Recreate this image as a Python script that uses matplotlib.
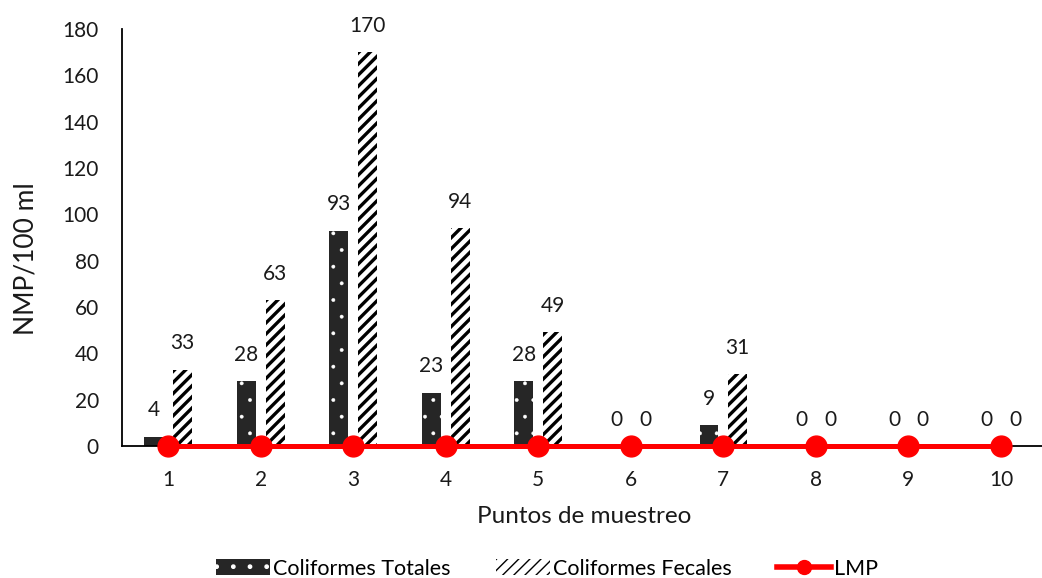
import matplotlib
matplotlib.use("Agg")
import matplotlib.pyplot as plt
import numpy as np
from matplotlib.lines import Line2D

puntos = ["1", "2", "3", "4", "5", "6", "7", "8", "9", "10"]
coliformes_totales = [4, 28, 93, 23, 28, 0, 9, 0, 0, 0]
coliformes_fecales = [33, 63, 170, 94, 49, 0, 31, 0, 0, 0]
lmp = [0, 0, 0, 0, 0, 0, 0, 0, 0, 0]

plt.rcParams['font.family'] = ['Lato', 'DejaVu Sans']
TXT = '#1a1a1a'

fig = plt.figure(figsize=(10.42, 5.78), dpi=100)
ax = fig.add_axes([0.117, 0.2284, 0.888, 0.7214])

x = np.arange(len(puntos))
w = 0.205
off = 0.155

with plt.rc_context({'hatch.linewidth': 0.3}):
    b1 = ax.bar(x - off, coliformes_totales, width=w, color='#262626',
                edgecolor='white', linewidth=0, hatch='.', label='Coliformes Totales', zorder=2)
with plt.rc_context({'hatch.linewidth': 2.4}):
    b2 = ax.bar(x + off, coliformes_fecales, width=w, color='white',
                edgecolor='black', linewidth=0, hatch='///', label='Coliformes Fecales', zorder=2)
for bars, lw in ((b1, 0.3), (b2, 2.4)):
    for p in bars:
        if hasattr(p, 'set_hatch_linewidth'):
            p.set_hatch_linewidth(lw)

ln, = ax.plot(x, lmp, color='#FF0000', lw=3.6, marker='o', markersize=15,
              label='LMP', zorder=4, clip_on=False)

for xs, vals in ((x - off, coliformes_totales), (x + off, coliformes_fecales)):
    for xi, v in zip(xs, vals):
        ax.annotate(f"{v}", (xi, v), xytext=(0, 19), textcoords='offset points',
                    ha='center', va='center', fontsize=15, color=TXT)

ax.set_xlim(-0.5, len(puntos) - 0.5)
ax.set_ylim(0, 180)
ax.set_yticks(range(0, 181, 20))
ax.set_xticks(x)
ax.set_xticklabels(puntos)
ax.tick_params(axis='both', length=0, labelsize=15, colors=TXT)
ax.tick_params(axis='x', pad=17)
ax.tick_params(axis='y', pad=16.5)
for s in ('top', 'right'):
    ax.spines[s].set_visible(False)
ax.spines['left'].set_linewidth(1.3)
ax.spines['bottom'].set_linewidth(1.3)

ax.set_xlabel('Puntos de muestreo', fontsize=17.5, color=TXT, labelpad=12)
ax.set_ylabel('NMP/100 ml', fontsize=19, color=TXT)
ax.yaxis.set_label_coords(-0.09, 0.45)

lmp_handle = Line2D([], [], color='#FF0000', lw=4, marker='o', markersize=10, label='LMP')
fig.legend(handles=[b1, b2, lmp_handle], loc='lower center', bbox_to_anchor=(0.525, -0.035),
           ncol=3, frameon=False, fontsize=15.5, handlelength=2.5, handleheight=0.75,
           handletextpad=0.15, columnspacing=2.1)

fig.savefig('out.png', dpi=100)
